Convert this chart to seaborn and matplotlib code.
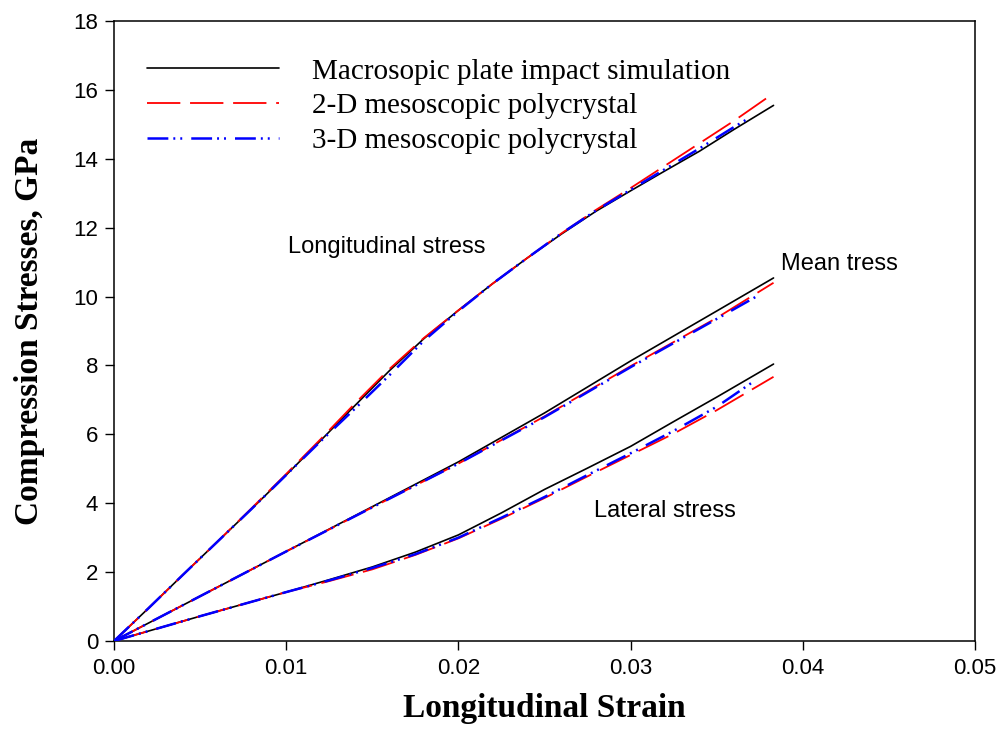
import matplotlib
matplotlib.use("Agg")
import matplotlib.pyplot as plt
import seaborn as sns
import numpy as np
import pandas as pd

# ---------------- data ----------------
# Longitudinal stress
long_macro_x = [0, 0.002, 0.004, 0.006, 0.008, 0.010, 0.012, 0.014, 0.016, 0.018, 0.020,
                0.022, 0.024, 0.026, 0.028, 0.030, 0.032, 0.034, 0.036, 0.0383]
long_macro_y = [0, 0.95, 1.92, 2.88, 3.84, 4.82, 5.82, 6.84, 7.85, 8.78, 9.60,
                10.38, 11.12, 11.82, 12.48, 13.07, 13.65, 14.22, 14.85, 15.55]
long_2d_x = [0, 0.002, 0.004, 0.006, 0.008, 0.010, 0.012, 0.014, 0.016, 0.018, 0.020,
             0.022, 0.024, 0.026, 0.028, 0.030, 0.032, 0.034, 0.036, 0.0383]
long_2d_y = [0, 0.95, 1.92, 2.88, 3.86, 4.85, 5.86, 6.90, 7.90, 8.80, 9.60,
             10.38, 11.12, 11.84, 12.52, 13.15, 13.80, 14.45, 15.10, 15.90]
long_3d_x = [0, 0.002, 0.004, 0.006, 0.008, 0.010, 0.012, 0.014, 0.016, 0.018, 0.020,
             0.022, 0.024, 0.026, 0.028, 0.030, 0.032, 0.034, 0.036, 0.0370]
long_3d_y = [0, 0.95, 1.92, 2.88, 3.84, 4.82, 5.80, 6.75, 7.72, 8.72, 9.58,
             10.38, 11.12, 11.84, 12.50, 13.10, 13.70, 14.30, 14.92, 15.22]

# Mean stress
mean_macro_x = [0, 0.005, 0.010, 0.015, 0.020, 0.025, 0.030, 0.035, 0.0383]
mean_macro_y = [0, 1.30, 2.60, 3.90, 5.20, 6.62, 8.13, 9.58, 10.54]
mean_2d_x = [0, 0.005, 0.010, 0.015, 0.020, 0.025, 0.030, 0.035, 0.0383]
mean_2d_y = [0, 1.30, 2.60, 3.88, 5.15, 6.52, 7.98, 9.38, 10.40]
mean_3d_x = [0, 0.005, 0.010, 0.015, 0.020, 0.025, 0.030, 0.035, 0.0373]
mean_3d_y = [0, 1.30, 2.60, 3.88, 5.15, 6.50, 7.95, 9.35, 10.00]

# Lateral stress
lat_macro_x = [0, 0.005, 0.010, 0.0125, 0.015, 0.0175, 0.020, 0.0225, 0.025, 0.0275,
               0.030, 0.0325, 0.035, 0.0383]
lat_macro_y = [0, 0.72, 1.42, 1.78, 2.15, 2.58, 3.08, 3.72, 4.40, 5.02,
               5.65, 6.37, 7.08, 8.04]
lat_2d_x = [0, 0.005, 0.010, 0.0125, 0.015, 0.0175, 0.020, 0.0225, 0.025, 0.0275,
            0.030, 0.0325, 0.035, 0.0383]
lat_2d_y = [0, 0.72, 1.42, 1.74, 2.08, 2.50, 2.98, 3.55, 4.15, 4.78,
            5.40, 6.02, 6.70, 7.67]
lat_3d_x = [0, 0.005, 0.010, 0.0125, 0.015, 0.0175, 0.020, 0.0225, 0.025, 0.0275,
            0.030, 0.0325, 0.035, 0.0371]
lat_3d_y = [0, 0.72, 1.42, 1.76, 2.12, 2.52, 3.00, 3.58, 4.18, 4.82,
            5.45, 6.10, 6.80, 7.52]

series_labels = ["Macrosopic plate impact simulation",
                 "2-D mesoscopic polycrystal",
                 "3-D mesoscopic polycrystal"]
annotations = ["Longitudinal stress", "Mean tress", "Lateral stress"]
x_ticks = [0.00, 0.01, 0.02, 0.03, 0.04, 0.05]
y_ticks = [0, 2, 4, 6, 8, 10, 12, 14, 16, 18]

# ---------------- style ----------------
sns.set_theme(style="ticks")
plt.rcParams["font.family"] = ["Liberation Sans", "DejaVu Sans"]
plt.rcParams["lines.scale_dashes"] = False
plt.rcParams["text.color"] = "black"
plt.rcParams["axes.labelcolor"] = "black"
plt.rcParams["xtick.color"] = "black"
plt.rcParams["ytick.color"] = "black"

fig = plt.figure(figsize=(10.01, 7.49), dpi=100)
ax = fig.add_axes([114 / 1001, 108 / 749, 861 / 1001, 620 / 749])

colors = ["black", "red", "blue"]
styles = ["-", (0, (24, 7)), (0, (15, 3.6, 1.4, 3.6, 1.4, 6.5))]
widths = [1.2, 1.3, 1.8]

groups = [
    [(long_macro_x, long_macro_y), (long_2d_x, long_2d_y), (long_3d_x, long_3d_y)],
    [(mean_macro_x, mean_macro_y), (mean_2d_x, mean_2d_y), (mean_3d_x, mean_3d_y)],
    [(lat_macro_x, lat_macro_y), (lat_2d_x, lat_2d_y), (lat_3d_x, lat_3d_y)],
]

handles = []
for gi, grp in enumerate(groups):
    for si, (xs, ys) in enumerate(grp):
        df = pd.DataFrame({"strain": xs, "stress": ys})
        n_before = len(ax.lines)
        sns.lineplot(data=df, x="strain", y="stress", ax=ax, color=colors[si],
                     linewidth=widths[si], sort=False, estimator=None,
                     zorder=2 + si)
        line = ax.lines[n_before]
        line.set_linestyle(styles[si])
        if gi == 0:
            handles.append(line)

ax.set_xlim(0, 0.05)
ax.set_ylim(0, 18)
ax.set_xticks(x_ticks)
ax.set_xticklabels([f"{v:.2f}" for v in x_ticks])
ax.set_yticks(y_ticks)
ax.set_yticklabels([str(v) for v in y_ticks])
ax.tick_params(axis="both", which="major", direction="out", length=6.5, width=1.0,
               labelsize=16, colors="black", top=False, right=False, pad=5)
ax.tick_params(axis="x", pad=6)
for sp in ax.spines.values():
    sp.set_visible(True)
    sp.set_linewidth(1.1)
    sp.set_color("black")

serif_bold = dict(family=["Liberation Serif", "DejaVu Serif"], weight="bold", size=24)
ax.set_xlabel("Longitudinal Strain", fontdict=serif_bold, labelpad=10)
ax.set_ylabel("Compression Stresses, GPa", fontdict=serif_bold, labelpad=20)

leg = ax.legend(handles, series_labels, loc="upper left",
                bbox_to_anchor=(0.038, 0.940), frameon=False,
                prop=dict(family=["Liberation Serif", "DejaVu Serif"], size=21),
                handlelength=4.55, handletextpad=1.13, labelspacing=0.29,
                borderpad=0, borderaxespad=0)

ax.text(0.0101, 11.44, annotations[0], fontsize=17, va="center", ha="left")
ax.text(0.03873, 10.95, annotations[1], fontsize=17, va="center", ha="left")
ax.text(0.02787, 3.77, annotations[2], fontsize=17, va="center", ha="left")

fig.savefig("out.png", dpi=100, facecolor="white")
